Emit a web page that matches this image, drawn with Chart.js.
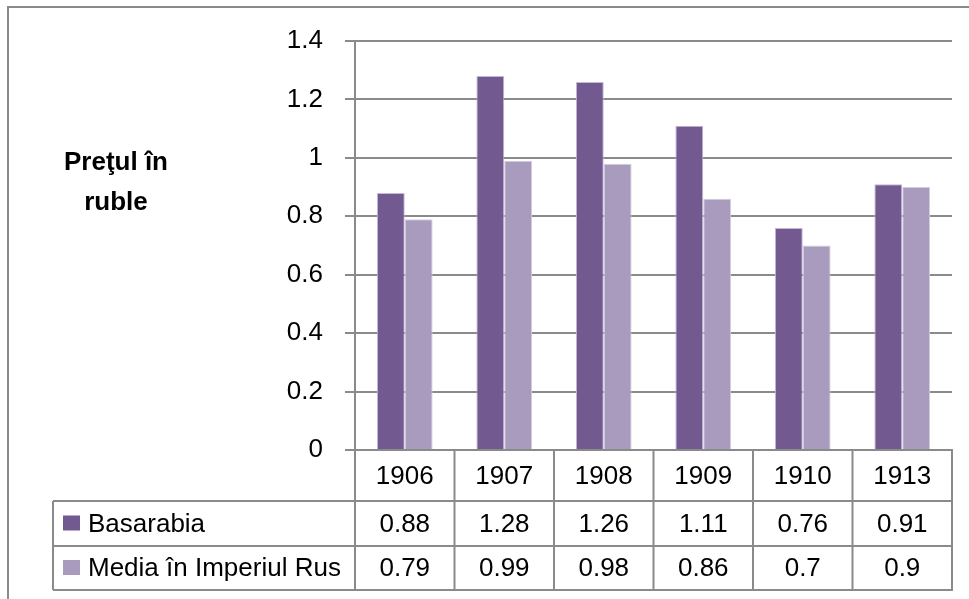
<!DOCTYPE html>
<html>
<head>
<meta charset="utf-8">
<script src="https://cdn.jsdelivr.net/npm/chart.js@4/dist/chart.umd.min.js"></script>
<style>
html,body{margin:0;padding:0;background:#fff;}
canvas{display:block;}
</style>
</head>
<body>
<canvas id="c" width="969" height="599"></canvas>
<script>
const categories = ['1906', '1907', '1908', '1909', '1910', '1913'];
const seriesNames = ['Basarabia', 'Media în Imperiul Rus'];
const basarabia = [0.88, 1.28, 1.26, 1.11, 0.76, 0.91];
const mediaImperiu = [0.79, 0.99, 0.98, 0.86, 0.7, 0.9];
const yTickValues = [0, 0.2, 0.4, 0.6, 0.8, 1, 1.2, 1.4];
const yTickLabels = ['0', '0.2', '0.4', '0.6', '0.8', '1', '1.2', '1.4'];
const yTitleLines = ['Preţul în', 'ruble'];

const colors = ['#725A91', '#A99BBE'];
const lineGray = '#8a8a8a';
const FONT = '"Liberation Sans", Arial, sans-serif';

const tablePlugin = {
  id: 'dataTable',
  afterDraw(chart) {
    const ctx = chart.ctx;
    const xs = chart.scales.x;
    const area = chart.chartArea;
    const n = categories.length;
    const cw = (xs.right - xs.left) / n;
    const rows = [area.bottom, 501, 546, 590];
    const tableLeft = 53;
    ctx.save();
    ctx.strokeStyle = lineGray;
    ctx.lineWidth = 2;
    // outer frame (top and left edges visible)
    ctx.beginPath();
    ctx.moveTo(8, 599);
    ctx.lineTo(8, 7);
    ctx.lineTo(969, 7);
    ctx.stroke();
    // horizontal lines of table
    ctx.beginPath();
    for (let r = 1; r < rows.length; r++) {
      ctx.moveTo(tableLeft, rows[r]);
      ctx.lineTo(xs.right + 1, rows[r]);
    }
    // vertical lines
    for (let i = 0; i <= n; i++) {
      const x = xs.left + i * cw;
      ctx.moveTo(x, area.bottom);
      ctx.lineTo(x, rows[3]);
    }
    ctx.moveTo(tableLeft, rows[1]);
    ctx.lineTo(tableLeft, rows[3]);
    ctx.stroke();

    // legend keys, names, values
    const data = [basarabia, mediaImperiu];
    ctx.font = '26px ' + FONT;
    ctx.textBaseline = 'middle';
    for (let s = 0; s < 2; s++) {
      const cy = (rows[s + 1] + rows[s + 2]) / 2;
      ctx.fillStyle = colors[s];
      ctx.fillRect(63, cy - 8, 17, 15);
      ctx.fillStyle = '#000';
      ctx.textAlign = 'left';
      ctx.fillText(seriesNames[s], 88, cy + 1);
      ctx.textAlign = 'center';
      for (let i = 0; i < n; i++) {
        ctx.fillText(String(data[s][i]), xs.getPixelForValue(i), cy + 1);
      }
    }
    // y axis title
    ctx.font = 'bold 26px ' + FONT;
    ctx.textAlign = 'center';
    ctx.fillText(yTitleLines[0], 116, 163);
    ctx.fillText(yTitleLines[1], 116, 203);
    ctx.restore();
  }
};

new Chart(document.getElementById('c'), {
  type: 'bar',
  data: {
    labels: categories,
    datasets: [
      { label: seriesNames[0], data: basarabia, backgroundColor: colors[0], borderColor: '#c4b8d6', borderWidth: 1 },
      { label: seriesNames[1], data: mediaImperiu, backgroundColor: colors[1], borderColor: '#d4cce0', borderWidth: 1 }
    ]
  },
  options: {
    responsive: false,
    animation: false,
    devicePixelRatio: 1,
    layout: { padding: { top: 41, right: 17, left: 0, bottom: 0 } },
    plugins: { legend: { display: false }, tooltip: { enabled: false }, title: { display: false } },
    datasets: { bar: { categoryPercentage: 0.56, barPercentage: 1.0 } },
    scales: {
      x: {
        grid: { display: false, drawTicks: false },
        border: { display: true, color: lineGray, width: 2 },
        ticks: { color: '#000', font: { family: FONT, size: 26 }, padding: 11, maxRotation: 0 },
        afterFit(scale) { scale.height = 599 - 450; }
      },
      y: {
        min: 0, max: 1.4,
        afterBuildTicks(scale) { scale.ticks = yTickValues.map(v => ({ value: v })); },
        grid: { color: lineGray, lineWidth: 2, tickLength: 10, drawTicks: true },
        border: { display: true, color: lineGray, width: 2 },
        ticks: {
          color: '#000', font: { family: FONT, size: 26 }, padding: 22,
          callback(v, i) { return yTickLabels[i]; }
        },
        afterFit(scale) { scale.width = 355; }
      }
    }
  },
  plugins: [tablePlugin]
});
</script>
</body>
</html>
